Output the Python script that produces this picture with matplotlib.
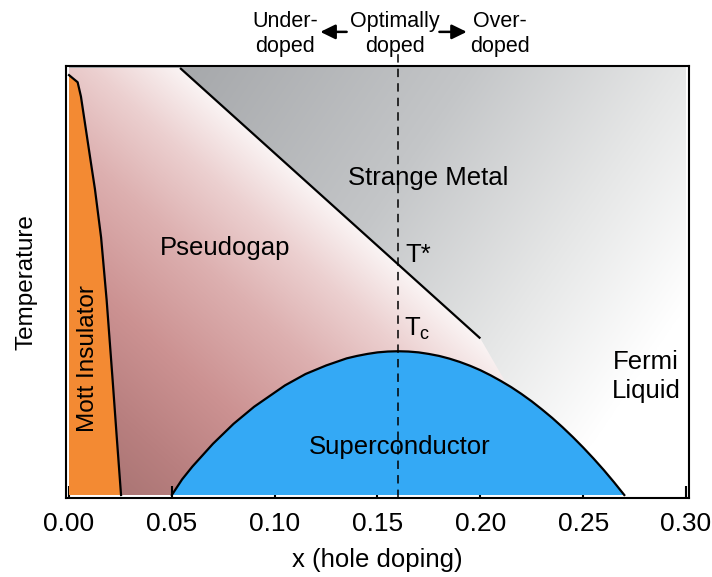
import numpy as np
import matplotlib
matplotlib.use('Agg')
import matplotlib.pyplot as plt
from matplotlib.patches import Polygon

# phase boundaries: hole doping x vs temperature (K)
mott_x = [0.0, 0.0042, 0.0058, 0.0083, 0.0107, 0.0126, 0.0156, 0.0183, 0.0212, 0.0232, 0.0253]
mott_T = [295, 290, 280, 256, 233, 215, 181, 137, 81, 41, 0]

dome_x = [0.050, 0.055, 0.060, 0.065, 0.070, 0.075, 0.080, 0.085, 0.090, 0.095,
          0.100, 0.105, 0.110, 0.115, 0.120, 0.125, 0.130, 0.135, 0.140, 0.145,
          0.150, 0.155, 0.160, 0.165, 0.170, 0.175, 0.180, 0.185, 0.190, 0.195,
          0.200, 0.205, 0.210, 0.215, 0.220, 0.225, 0.230, 0.235, 0.240, 0.245,
          0.250, 0.255, 0.260, 0.265, 0.270]
dome_T = [0, 11, 20, 28, 36, 43, 50, 56, 62, 67,
          72, 77, 81, 85, 88, 91, 93.5, 96, 97.7, 99.1,
          100.2, 100.8, 101, 100.8, 100.2, 99.1, 97.7, 95.8, 93.5, 90.8,
          87.7, 84.1, 80.1, 75.8, 71.0, 65.8, 60.1, 54.1, 47.6, 40.7,
          33.4, 25.7, 17.6, 9.0, 0]

tstar_x = [0.054, 0.20]
tstar_T = [300, 110]
tail_x, tail_T = 0.213, 77.5    # where the fading pseudogap meets the dome

x_opt = 0.16
x_max = 0.30
T_top = 300
xticks = [0.00, 0.05, 0.10, 0.15, 0.20, 0.25, 0.30]

plt.rcParams['font.family'] = ['Liberation Sans', 'DejaVu Sans']


def ramp(v, stops, cols):
    cols = np.array(cols, float) / 255.
    return np.stack([np.interp(v, stops, cols[:, i]) for i in range(3)], axis=-1)


fig = plt.figure(figsize=(7.12, 5.77), dpi=100)
ax = fig.add_axes([66 / 712, 79 / 577, 623 / 712, 432 / 577])
ax.set_xlim(-0.00146, 0.30146)
ax.set_ylim(-2.1, 301.4)

gx, gT = np.meshgrid(np.linspace(0, x_max, 700), np.linspace(0, T_top, 500))
ext = [0, x_max, 0, T_top]

# grey background, lightening towards the overdoped / low T corner
s = 335.5 + 1703 * gx - 0.8006 * gT
grey = ramp(s, [190, 430, 605, 740], [(166, 168, 171), (196, 198, 200), (230, 231, 231), (255, 255, 255)])
ax.imshow(grey, extent=ext, origin='lower', aspect='auto', interpolation='bilinear', zorder=0)

# pseudogap, darker away from the T* line
d = 391 - 1382 * gx - 1.0547 * gT
pink = ramp(d, [0, 60, 130, 220, 300, 400],
            [(250, 244, 244), (236, 208, 208), (221, 176, 176), (204, 146, 146), (184, 127, 127), (160, 110, 108)])
pg_pts = ([(0, T_top), (tstar_x[0], tstar_T[0]), (tstar_x[1], tstar_T[1]), (tail_x, tail_T)]
          + [(x, t) for x, t in zip(dome_x[::-1], dome_T[::-1]) if x < tail_x]
          + [(x, t) for x, t in zip(mott_x[::-1], mott_T[::-1])])
pg_patch = Polygon(pg_pts, closed=True, facecolor='none', edgecolor='none')
ax.add_patch(pg_patch)
im = ax.imshow(pink, extent=ext, origin='lower', aspect='auto', interpolation='bilinear', zorder=1)
im.set_clip_path(pg_patch)

# Mott insulator
ax.fill(list(mott_x) + [0], list(mott_T) + [0], color='#f38a33', lw=0, zorder=2)
ax.plot(mott_x, mott_T, color='black', lw=1.6, zorder=3)

# superconducting dome
ax.fill(dome_x, dome_T, color='#34a9f5', lw=0, zorder=2)
ax.plot(dome_x, dome_T, color='black', lw=1.6, zorder=3)

# T* line
ax.plot(tstar_x, tstar_T, color='black', lw=1.6, zorder=3, solid_capstyle='butt')

# optimal doping
ax.axvline(x_opt, ymin=0, ymax=1.032, color='black', lw=1.1, ls=(0, (5.5, 4)), clip_on=False, zorder=4)

fs = 18.5
ax.text(0.1746, 222.7, 'Strange Metal', fontsize=fs, ha='center', va='center', zorder=5)
ax.text(0.0758, 173.5, 'Pseudogap', fontsize=fs, ha='center', va='center', zorder=5)
ax.text(0.1635, 168.6, 'T*', fontsize=fs, ha='left', va='center', zorder=5)
ax.text(0.1630, 117, r'T$_\mathregular{c}$', fontsize=fs, ha='left', va='center', zorder=5)
ax.text(0.0092, 96, 'Mott Insulator', fontsize=17.5, rotation=90, ha='center', va='center', zorder=5)
ax.text(0.161, 33.7, 'Superconductor', fontsize=fs, ha='center', va='center', zorder=5)
ax.text(0.2805, 83, 'Fermi\nLiquid', fontsize=fs, ha='center', va='center', linespacing=1.25, zorder=5)

# doping regime labels above the frame
tr = ax.get_xaxis_transform()
for xl, lab in [(0.105, 'Under-\ndoped'), (0.1585, 'Optimally\ndoped'), (0.2096, 'Over-\ndoped')]:
    ax.text(xl, 1.075, lab, transform=tr, fontsize=15.5, ha='center', va='center',
            linespacing=1.25, clip_on=False)
arrow = dict(arrowstyle='-|>,head_length=0.45,head_width=0.22', mutation_scale=20,
             color='black', lw=1.8, shrinkA=0, shrinkB=0)
ax.annotate('', xy=(0.1222, 1.079), xytext=(0.135, 1.079), xycoords=tr, textcoords=tr, arrowprops=arrow)
ax.annotate('', xy=(0.1934, 1.079), xytext=(0.1801, 1.079), xycoords=tr, textcoords=tr, arrowprops=arrow)

ax.set_xticks(xticks)
ax.set_xticklabels(['%.2f' % t for t in xticks], fontsize=19)
ax.tick_params(axis='x', direction='in', length=9, width=1.5, pad=10)
ax.set_yticks([])
for sp in ax.spines.values():
    sp.set_linewidth(1.5)

ax.set_xlabel('x (hole doping)', fontsize=18.5)
ax.xaxis.set_label_coords(0.5, -0.115)
ax.set_ylabel('Temperature', fontsize=17.5)
ax.yaxis.set_label_coords(-0.045, 0.5)

fig.savefig('out.png', dpi=100)
